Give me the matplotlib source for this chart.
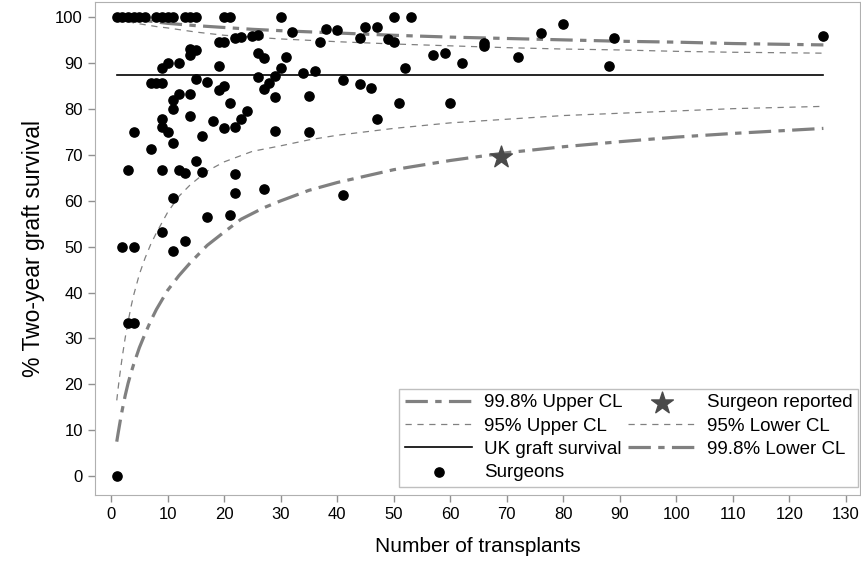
import matplotlib
matplotlib.use("Agg")
import matplotlib.pyplot as plt

plt.rcParams["font.family"] = ["Liberation Sans", "DejaVu Sans"]

# surgeon-level data (number of transplants, % two-year graft survival)
surgeon_n = [1, 1, 2, 2, 3, 3, 3, 4, 4, 4, 4, 5, 6, 7, 7,
             8, 8, 9, 9, 9, 9, 9, 9, 9, 10, 10, 10,
             11, 11, 11, 11, 11, 11, 12, 12, 12, 13, 13, 13,
             14, 14, 14, 14, 14, 15, 15, 15, 15, 16, 16, 17, 17, 18,
             19, 19, 19, 20, 20, 20, 20, 21, 21, 21, 22, 22, 22, 22,
             23, 23, 24, 25, 26, 26, 26, 27, 27, 27, 28, 29, 29, 29,
             30, 30, 31, 32, 34, 35, 35, 36, 37, 38, 40, 41, 41,
             44, 44, 45, 46, 47, 47, 49, 50, 50, 51, 52, 53,
             57, 59, 60, 62, 66, 66, 72, 76, 80, 88, 89, 126]
surgeon_surv = [100, 0, 100, 50, 100, 66.7, 33.3, 100, 75, 50, 33.3, 100, 100, 85.7, 71.4,
                100, 85.7, 100, 85.7, 89, 77.8, 76.1, 66.7, 53.3, 100, 90.1, 75,
                100, 81.9, 80, 72.6, 60.6, 49.1, 90, 83.3, 66.7, 100, 66.1, 51.3,
                100, 93, 91.7, 83.2, 78.6, 100, 92.8, 86.6, 68.6, 74.1, 66.3, 86, 56.4, 77.4,
                94.6, 89.5, 84.2, 100, 94.6, 85, 75.8, 100, 81.4, 56.9, 95.5, 76.1, 65.9, 61.8,
                95.7, 77.8, 79.7, 95.9, 96.2, 92.3, 86.9, 91.2, 84.3, 62.5, 85.7, 87.3, 82.6, 75.3,
                100, 89, 91.4, 96.8, 87.9, 82.9, 75, 88.3, 94.6, 97.4, 97.2, 86.3, 61.3,
                95.4, 85.4, 97.8, 84.5, 97.9, 77.8, 95.2, 100, 94.6, 81.3, 89, 100,
                91.9, 92.2, 81.3, 90.1, 94.5, 93.8, 91.4, 96.7, 98.5, 89.5, 95.5, 96]

reported_n = [69]
reported_surv = [69.5]

uk_n = [1, 126]
uk_surv = [87.5, 87.5]

# control limits
up998_n = [1, 3, 5, 8, 10, 15, 20, 25, 30, 40, 50, 60, 70, 80, 90, 100, 110, 126]
up998 = [100, 100, 99.5, 99, 98.7, 98.2, 97.8, 97.4, 97.1, 96.6, 96.1, 95.7, 95.4, 95.1, 94.8, 94.6, 94.3, 94.0]

up95_n = [1, 2, 4, 6, 8, 10, 15, 20, 25, 30, 40, 50, 60, 70, 80, 90, 100, 110, 126]
up95 = [100, 99.5, 98.8, 98.4, 98, 97.7, 96.8, 96.1, 95.7, 95.3, 94.7, 94.2, 93.8, 93.4, 93.1, 92.9, 92.6, 92.4, 92.2]

lo95_n = [1, 1.25, 1.5, 1.75, 2, 2.5, 3, 3.5, 4, 5, 6, 7, 8, 10, 12, 14, 17, 20, 25, 30, 35, 40, 50, 60,
          70, 80, 90, 100, 110, 126]
lo95 = [16.5, 19.2, 21.7, 24, 26.2, 30.2, 33.6, 36.8, 39.5, 44, 47.5, 50.5, 53, 57.5, 61, 63.5, 66.5, 68.5,
        70.8, 72, 73.3, 74.3, 75.8, 77, 77.8, 78.6, 79.1, 79.6, 80.1, 80.6]

lo998_n = [1, 1.25, 1.5, 1.75, 2, 2.5, 3, 3.5, 4, 5, 6, 7, 8, 10, 12, 14, 17, 20, 23, 27, 30, 35, 40, 50,
           60, 70, 80, 90, 100, 110, 126]
lo998 = [7.5, 9.4, 11.2, 13, 14.6, 17.6, 20.2, 22.4, 24.4, 28, 31, 33.8, 36.3, 40.5, 43.7, 46.5, 50.3,
         53.2, 56, 58.5, 60, 62.3, 64, 66.8, 68.8, 70.5, 71.8, 72.9, 73.9, 74.7, 75.8]

fig = plt.figure(figsize=(8.61, 5.63), dpi=100)
ax = fig.add_axes([0.110, 0.121, 0.889, 0.875])

grey = "#808080"
thick = dict(color=grey, lw=2.3, dashes=(7, 2.3, 2, 2.3))
thin = dict(color=grey, lw=0.9, dashes=(5, 4.5))

l1, = ax.plot(up998_n, up998, label="99.8% Upper CL", **thick)
l2, = ax.plot(up95_n, up95, label="95% Upper CL", **thin)
l3, = ax.plot(uk_n, uk_surv, color="black", lw=1.2, label="UK graft survival")
l6, = ax.plot(lo95_n, lo95, label="95% Lower CL", **thin)
l7, = ax.plot(lo998_n, lo998, label="99.8% Lower CL", **thick)

l4 = ax.scatter(surgeon_n, surgeon_surv, s=44, color="black", zorder=3, label="Surgeons")
l5 = ax.scatter(reported_n, reported_surv, s=270, marker="*", color="#4a4a4a", zorder=4,
                label="Surgeon reported")

ax.set_xlim(-2.9, 132.5)
ax.set_ylim(-4.1, 103.3)
ax.set_xticks(range(0, 131, 10))
ax.set_yticks(range(0, 101, 10))
ax.tick_params(labelsize=12, color="#909090", length=5, width=1)
for s in ax.spines.values():
    s.set_color("#b0b0b0")
ax.set_xlabel("Number of transplants", fontsize=15, labelpad=11)
ax.set_ylabel("% Two-year graft survival", fontsize=16.5, labelpad=7)

handles = [l1, l2, l3, l4, l5, l6, l7]
leg = ax.legend(handles, [h.get_label() for h in handles],
                ncol=2, loc="lower right", bbox_to_anchor=(0.997, 0.016),
                fontsize=13.5, frameon=True, fancybox=False, handlelength=3.6,
                labelspacing=0.33, columnspacing=0.3, handletextpad=0.6,
                borderpad=0.3, borderaxespad=0.0, scatterpoints=1)
leg.get_frame().set_edgecolor("#b0b0b0")
leg.get_frame().set_linewidth(1)

fig.savefig("out.png", dpi=100)
